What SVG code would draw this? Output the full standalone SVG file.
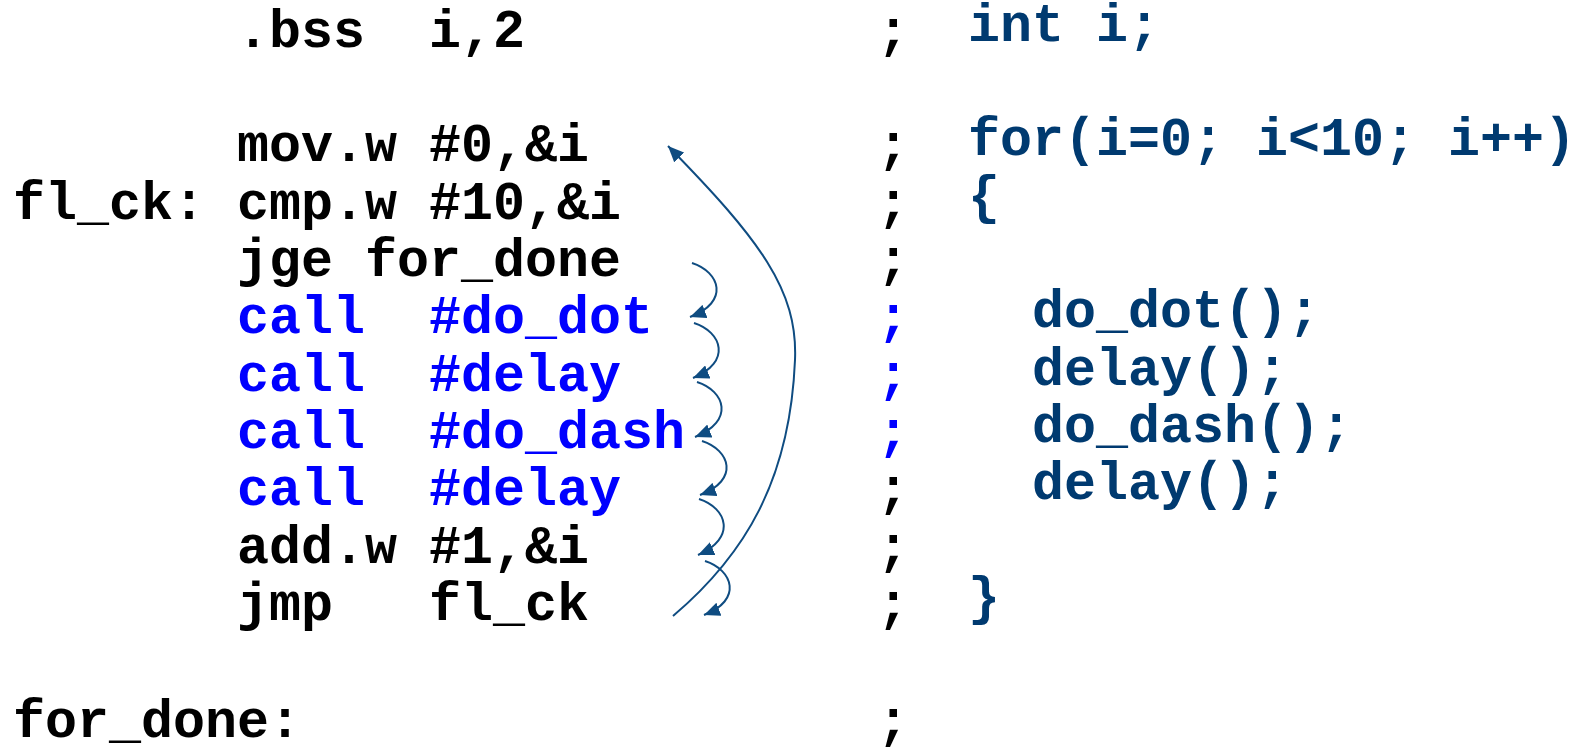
<svg xmlns="http://www.w3.org/2000/svg" width="1583" height="751" viewBox="0 0 1583 751">
  <style>
    text { font-family: "Liberation Mono", "Courier New", monospace; font-weight: bold; font-size: 53.33px; white-space: pre; }
    .asm { fill: #000000; }
    .call { fill: #0000ff; }
    .c { fill: #003a70; }
    .flow { fill: none; stroke: #0f4c81; stroke-width: 2; }
  </style>
  <defs>
    <marker id="ah" markerUnits="userSpaceOnUse" markerWidth="18" markerHeight="14" refX="16" refY="7" orient="auto">
      <path d="M0,0 L16,7 L0,14 Z" fill="#0f4c81"/>
    </marker>
  </defs>

  <rect width="1583" height="751" fill="#ffffff"/>

  <!-- assembly listing -->
  <g id="asm">
    <text class="asm" x="13" y="47" xml:space="preserve">       .bss  i,2</text>
    <text class="asm" x="13" y="161" xml:space="preserve">       mov.w #0,&amp;i</text>
    <text class="asm" x="13" y="219" xml:space="preserve">fl_ck: cmp.w #10,&amp;i</text>
    <text class="asm" x="13" y="276" xml:space="preserve">       jge for_done</text>
    <text class="call" x="13" y="333" xml:space="preserve">       call  #do_dot</text>
    <text class="call" x="13" y="391" xml:space="preserve">       call  #delay</text>
    <text class="call" x="13" y="448" xml:space="preserve">       call  #do_dash</text>
    <text class="call" x="13" y="505" xml:space="preserve">       call  #delay</text>
    <text class="asm" x="13" y="563" xml:space="preserve">       add.w #1,&amp;i</text>
    <text class="asm" x="13" y="620" xml:space="preserve">       jmp   fl_ck</text>
    <text class="asm" x="13" y="737" xml:space="preserve">for_done:</text>
  </g>

  <!-- comment separators -->
  <g id="separators">
    <text class="asm" x="877" y="47">;</text>
    <text class="asm" x="877" y="161">;</text>
    <text class="asm" x="877" y="219">;</text>
    <text class="asm" x="877" y="276">;</text>
    <text class="call" x="877" y="333">;</text>
    <text class="call" x="877" y="391">;</text>
    <text class="call" x="877" y="448">;</text>
    <text class="asm" x="877" y="505">;</text>
    <text class="asm" x="877" y="563">;</text>
    <text class="asm" x="877" y="620">;</text>
    <text class="asm" x="877" y="737">;</text>
  </g>

  <!-- equivalent C code -->
  <g id="c-code">
    <text class="c" x="968" y="41" xml:space="preserve">int i;</text>
    <text class="c" x="968" y="155" xml:space="preserve">for(i=0; i&lt;10; i++)</text>
    <text class="c" x="968" y="213" xml:space="preserve">{</text>
    <text class="c" x="968" y="327" xml:space="preserve">  do_dot();</text>
    <text class="c" x="968" y="385" xml:space="preserve">  delay();</text>
    <text class="c" x="968" y="442" xml:space="preserve">  do_dash();</text>
    <text class="c" x="968" y="499" xml:space="preserve">  delay();</text>
    <text class="c" x="968" y="614" xml:space="preserve">}</text>
  </g>

  <!-- control flow arrows -->
  <g id="connectors">
    <path class="flow" marker-end="url(#ah)" d="M692,263 C720,272 730,302 690,317"/>
    <path class="flow" marker-end="url(#ah)" d="M694,323 C722,332 732,362 693,378"/>
    <path class="flow" marker-end="url(#ah)" d="M697,382 C725,391 735,421 695,437"/>
    <path class="flow" marker-end="url(#ah)" d="M702,441 C730,450 740,480 700,495"/>
    <path class="flow" marker-end="url(#ah)" d="M699,499 C727,508 737,538 698,555"/>
    <path class="flow" marker-end="url(#ah)" d="M705,561 C733,570 743,600 704,615"/>
    <path class="flow" marker-end="url(#ah)" d="M673,616 C745,555 790,480 795,360 C798,290 760,240 668,146"/>
  </g>
</svg>
